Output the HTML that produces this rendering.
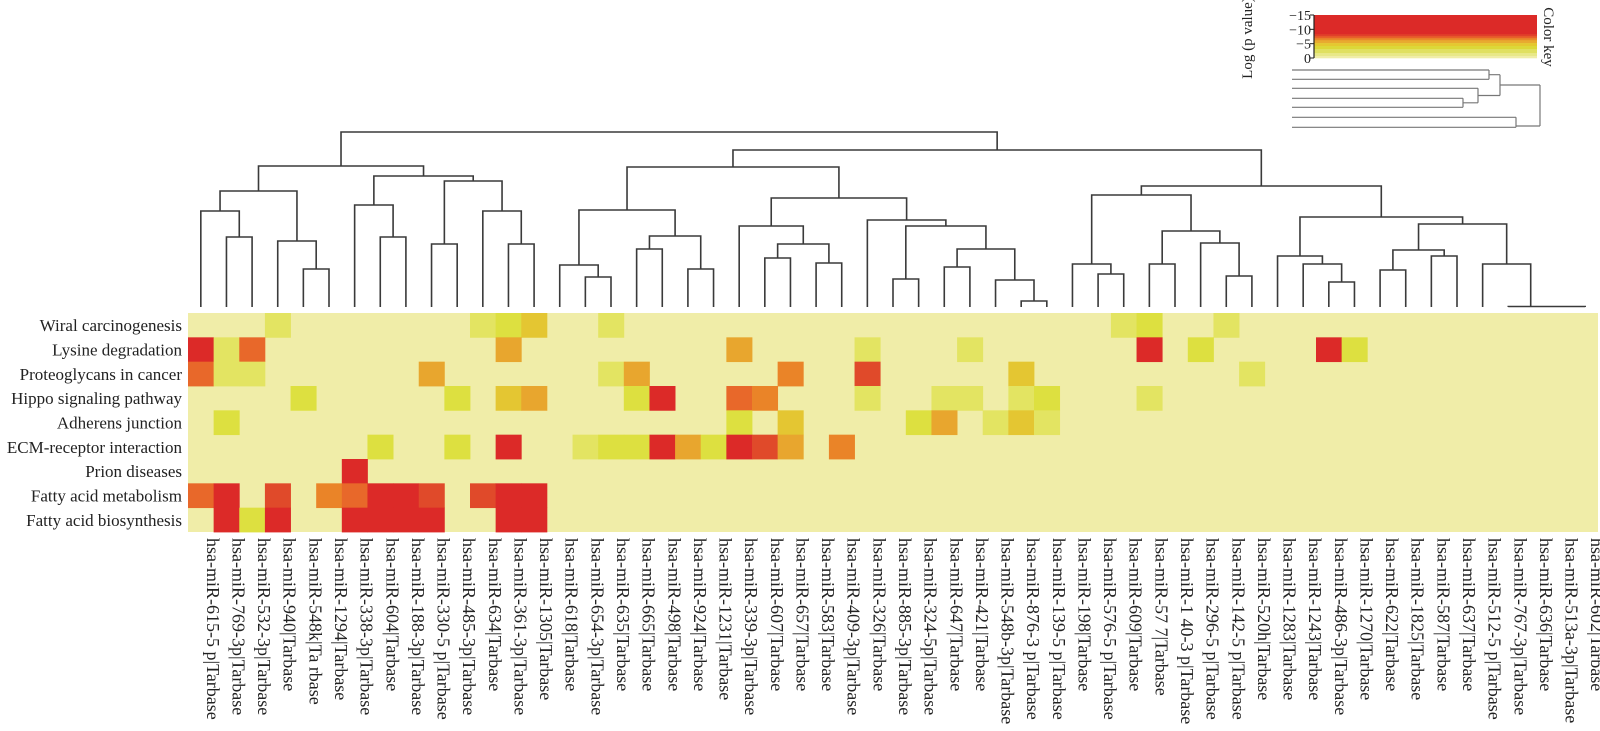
<!DOCTYPE html>
<html><head><meta charset="utf-8"><style>
html,body{margin:0;padding:0;background:#fff;}
svg{display:block;font-family:"Liberation Serif",serif;}
</style></head><body>
<svg id="chart" width="1600" height="731" viewBox="0 0 1600 731">
<g id="key"></g>
<g id="rowdend" stroke="#777" stroke-width="1.2" fill="none">
<path d="M1292 70H1489M1292 79.3H1489M1489 70V79.3M1489 74.7H1500M1292 88.3H1478M1292 98.3H1463M1292 107.3H1463M1463 98.3V107.3M1463 102.8H1478M1478 88.3V102.8M1478 95.5H1500M1500 74.7V95.5M1500 85H1540M1292 117.3H1516M1292 127.3H1475.7M1516 117.3V127.3M1475.7 127.3H1516M1516 126H1540M1540 85V126"/>
</g>
<g id="dend" stroke="#3a3a3a" stroke-width="1.6" fill="none"></g>
<g id="cells"></g>
<g id="rowlabels" font-size="17" fill="#222" text-anchor="end"></g>
<g id="collabels" font-size="18" fill="#222"></g>
</svg>
<script>
const pathways = ["Wiral carcinogenesis","Lysine degradation","Proteoglycans in cancer","Hippo signaling pathway","Adherens junction","ECM-receptor interaction","Prion diseases","Fatty acid metabolism","Fatty acid biosynthesis"];
const mirnas = ["hsa-miR-615-5 p|Tarbase","hsa-miR-769-3p|Tarbase","hsa-miR-532-3p|Tarbase","hsa-miR-940|Tarbase","hsa-miR-548k|Ta rbase","hsa-miR-1294|Tarbase","hsa-miR-338-3p|Tarbase","hsa-miR-604|Tarbase","hsa-miR-188-3p|Tarbase","hsa-miR-330-5 p|Tarbase","hsa-miR-485-3p|Tarbase","hsa-miR-634|Tarbase","hsa-miR-361-3p|Tarbase","hsa-miR-1305|Tarbase","hsa-miR-618|Tarbase","hsa-miR-654-3p|Tarbase","hsa-miR-635|Tarbase","hsa-miR-665|Tarbase","hsa-miR-498|Tarbase","hsa-miR-924|Tarbase","hsa-miR-1231|Tarbase","hsa-miR-339-3p|Tarbase","hsa-miR-607|Tarbase","hsa-miR-657|Tarbase","hsa-miR-583|Tarbase","hsa-miR-409-3p|Tarbase","hsa-miR-326|Tarbase","hsa-miR-885-3p|Tarbase","hsa-miR-324-5p|Tarbase","hsa-miR-647|Tarbase","hsa-miR-421|Tarbase","hsa-miR-548b-3p|Tarbase","hsa-miR-876-3 p|Tarbase","hsa-miR-139-5 p|Tarbase","hsa-miR-198|Tarbase","hsa-miR-576-5 p|Tarbase","hsa-miR-609|Tarbase","hsa-miR-57 7|Tarbase","hsa-miR-1 40-3 p|Tarbase","hsa-miR-296-5 p|Tarbase","hsa-miR-142-5 p|Tarbase","hsa-miR-520h|Tarbase","hsa-miR-1283|Tarbase","hsa-miR-1243|Tarbase","hsa-miR-486-3p|Tarbase","hsa-miR-1270|Tarbase","hsa-miR-622|Tarbase","hsa-miR-1825|Tarbase","hsa-miR-587|Tarbase","hsa-miR-637|Tarbase","hsa-miR-512-5 p|Tarbase","hsa-miR-767-3p|Tarbase","hsa-miR-636|Tarbase","hsa-miR-513a-3p|Tarbase","hsa-miR-602|Tarbase"];
// -log10(p) values per pathway row
const wiral = [0,0,0,2,0,0,0,0,0,0, 0,2,3,5,0,0,2,0,0,0, 0,0,0,0,0,0,0,0,0,0, 0,0,0,0,0,0,2,3,0,0, 2,0,0,0,0,0,0,0,0,0, 0,0,0,0,0];
const lysine = [14,2,10,0,0,0,0,0,0,0, 0,0,7,0,0,0,0,0,0,0, 0,7,0,0,0,0,2,0,0,0, 2,0,0,0,0,0,0,14,0,3, 0,0,0,0,14,3,0,0,0,0, 0,0,0,0,0];
const proteo = [10,2,2,0,0,0,0,0,0,7, 0,0,0,0,0,0,2,7,0,0, 0,0,0,9,0,0,12,0,0,0, 0,0,5,0,0,0,0,0,0,0, 0,2,0,0,0,0,0,0,0,0, 0,0,0,0,0];
const hippo = [0,0,0,0,3,0,0,0,0,0, 3,0,5,7,0,0,0,3,14,0, 0,10,9,0,0,0,2,0,0,2, 2,0,2,3,0,0,0,2,0,0, 0,0,0,0,0,0,0,0,0,0, 0,0,0,0,0];
const adherens = [0,3,0,0,0,0,0,0,0,0, 0,0,0,0,0,0,0,0,0,0, 0,3,0,5,0,0,0,0,3,7, 0,2,5,2,0,0,0,0,0,0, 0,0,0,0,0,0,0,0,0,0, 0,0,0,0,0];
const ecm = [0,0,0,0,0,0,0,3,0,0, 3,0,14,0,0,2,3,3,14,7, 3,14,12,7,0,9,0,0,0,0, 0,0,0,0,0,0,0,0,0,0, 0,0,0,0,0,0,0,0,0,0, 0,0,0,0,0];
const prion = [0,0,0,0,0,0,14,0,0,0, 0,0,0,0,0,0,0,0,0,0, 0,0,0,0,0,0,0,0,0,0, 0,0,0,0,0,0,0,0,0,0, 0,0,0,0,0,0,0,0,0,0, 0,0,0,0,0];
const faMetab = [10,14,0,12,0,9,10,14,14,12, 0,12,14,14,0,0,0,0,0,0, 0,0,0,0,0,0,0,0,0,0, 0,0,0,0,0,0,0,0,0,0, 0,0,0,0,0,0,0,0,0,0, 0,0,0,0,0];
const faBio = [0,14,3,14,0,0,14,14,14,14, 0,0,14,14,0,0,0,0,0,0, 0,0,0,0,0,0,0,0,0,0, 0,0,0,0,0,0,0,0,0,0, 0,0,0,0,0,0,0,0,0,0, 0,0,0,0,0];
const matrix = [wiral,lysine,proteo,hippo,adherens,ecm,prion,faMetab,faBio];
const keyTicks = [-15,-10,-5,0];

const NS="http://www.w3.org/2000/svg";
const X0=188, X1=1598, Y0=313, Y1=532;
const cw=(X1-X0)/mirnas.length, rh=(Y1-Y0)/pathways.length;
const xScale=i=>X0+i*cw, yScale=j=>Y0+j*rh;
function colorFor(v){
  if(v>=13) return "#dc2a28";
  if(v>=11.5) return "#e04a2a";
  if(v>=10) return "#e8682a";
  if(v>=8.5) return "#ea8428";
  if(v>=6.5) return "#e8a62e";
  if(v>=4.5) return "#e4c632";
  if(v>=2.5) return "#dde040";
  if(v>=1) return "#e3e462";
  return "#f0eda8";
}
function el(tag,attrs,parent){const e=document.createElementNS(NS,tag);for(const k in attrs)e.setAttribute(k,attrs[k]);parent.appendChild(e);return e;}

const cells=document.getElementById('cells');
el('rect',{x:X0,y:Y0,width:X1-X0,height:Y1-Y0,fill:"#f0eda8"},cells);
matrix.forEach((row,j)=>row.forEach((v,i)=>{
  if(v<=0) return;
  const r=el('rect',{x:xScale(i),y:yScale(j),width:cw+0.4,height:rh+0.4,fill:colorFor(v)},cells);
  
  
}));

const rl=document.getElementById('rowlabels');
pathways.forEach((p,j)=>{
  const t=el('text',{x:182,y:yScale(j)+rh/2+6},rl);t.textContent=p;
  
  
});
const cl=document.getElementById('collabels');
mirnas.forEach((m,i)=>{
  const cx=xScale(i)+cw/2+6, cy=538;
  const t=el('text',{x:cx,y:cy,transform:`rotate(90 ${cx} ${cy})`},cl);t.textContent=m;
  
  
});

const N=(l,r,h)=>({l,r,h});
const clusterA = N(N(1,N(2,3,70),96),N(4,N(5,6,38),66),116);
const clusterB = N(N(7,N(8,9,70),102),N(N(10,11,63),N(12,N(13,14,63),96),126),131);
const clusterC = N(N(15,N(16,17,30),42),N(N(18,19,58),N(20,21,38),71),97);
const clusterD = N(N(22,N(N(23,24,49),N(25,26,44),63),81),N(27,N(N(28,29,28),N(N(30,31,40),N(32,N(33,34,6),27),58),81),87),109);
const clusterE = N(N(35,N(36,37,33),43),N(N(38,39,43),N(40,N(41,42,31),64),76),112);
const clusterF = N(N(43,N(44,N(45,46,25),43),51),N(N(N(47,48,37),N(49,50,51),57),N(51,N(52,N(53,N(54,55,0.5),0.5),0.5),43),83),90);
const tree = N(N(clusterA,clusterB,141),N(N(clusterC,clusterD,140),N(clusterE,clusterF,121),157),175);
const DBASE=307;
const dend=document.getElementById('dend');
let d="";
function draw(n){
  if(typeof n==="number") return {x:xScale(n-1)+cw/2,y:DBASE};
  const a=draw(n.l), b=draw(n.r), y=DBASE-n.h;
  d+=`M${a.x} ${a.y}V${y}H${b.x}V${b.y}`;
  return {x:(a.x+b.x)/2,y};
}
draw(tree);
const p=el('path',{d},dend);



const key=document.getElementById('key');
const KX=1314,KW=223,KY0=15,KY1=58;
const keyBands=["#dc2a28","#e0402a","#e8602a","#e88a2a","#e8aa30","#e4c830","#dcd838","#e0e060","#e8e888","#f0eda8"];
const keyBandStops=[15,8.3,7.6,6.9,6.2,5.2,4.2,3.1,1.7,0.7,0];
const ky=v=>KY1-(v/15)*(KY1-KY0);
keyBands.forEach((c,i)=>{
  const r=el('rect',{x:KX,y:ky(keyBandStops[i]),width:KW,height:ky(keyBandStops[i+1])-ky(keyBandStops[i])+0.3,fill:c},key);
  
  
});
el('line',{x1:KX,y1:KY0,x2:KX,y2:KY1,stroke:"#222","stroke-width":1.2},key);
keyTicks.forEach(v=>{
  const y=ky(-v);
  el('line',{x1:KX-4,y1:y,x2:KX,y2:y,stroke:"#222","stroke-width":1},key);
  const t=el('text',{x:KX-3,y:y+5,"text-anchor":"end","font-size":14,fill:"#222"},key);
  t.textContent=v===0?"0":"\u2212"+Math.abs(v);
  
  
});
const yt=el('text',{x:1252,y:38,"text-anchor":"middle","font-size":15,fill:"#222",transform:"rotate(-90 1252 38)"},key);
yt.textContent="Log (p value)";


const kt=el('text',{x:1544,y:37,"text-anchor":"middle","font-size":15,fill:"#222",transform:"rotate(90 1544 37)"},key);
kt.textContent="Color key";


</script>
</body></html>
